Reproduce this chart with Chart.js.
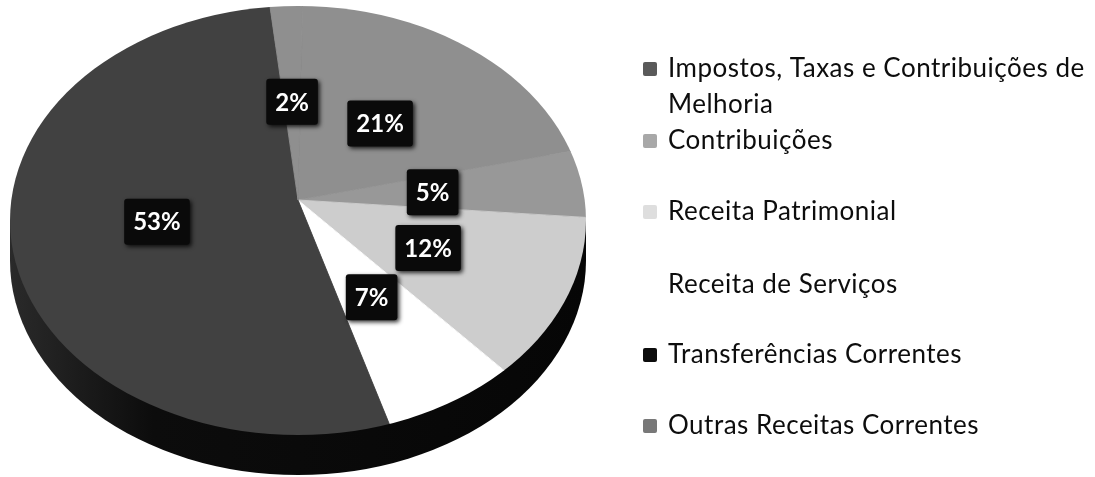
<!DOCTYPE html>
<html><head><meta charset="utf-8">
<style>html,body{margin:0;padding:0;background:#fff}canvas{display:block;filter:blur(0.6px)}</style>
<script src="https://cdn.jsdelivr.net/npm/chart.js@4"></script>
</head><body>
<canvas id="c" width="1095" height="477"></canvas>
<script>
const categories = ["Impostos, Taxas e Contribuições de Melhoria","Contribuições","Receita Patrimonial","Receita de Serviços","Transferências Correntes","Outras Receitas Correntes"];
const values = [21,5,12,7,53,2];
const sliceColors = ["#8f8f8f","#989898","#cdcdcd","#ffffff","#414141","#8f8f8f"];
const swatchColors = ["#5a5a5a","#a8a8a8","#dedede","#ffffff","#0c0c0c","#787878"];
const legendLines = [["Impostos, Taxas e Contribuições de","Melhoria"],["Contribuições"],["Receita Patrimonial"],["Receita de Serviços"],["Transferências Correntes"],["Outras Receitas Correntes"]];

// layout constants (style only)
const FACE = {cx:298, cy:220.5, rx:288, ry:214.5, depth:40};
const TILT = 0.75;
const LABEL_R = [131,135,145,149,144,131];
const LEGEND_BASE = [[77,113],[149],[220],[293],[363],[434]];
const LEGEND_X = 668, SWATCH_X = 643, SWATCH = 14;

function ell(ctx,cy){ctx.beginPath();ctx.ellipse(FACE.cx,cy,FACE.rx,FACE.ry,0,0,Math.PI*2);}

const pie3d = {
  id:'pie3d',
  beforeDatasetsDraw(chart){
    const ctx = chart.ctx, a = chart.getDatasetMeta(0).data[0];
    ctx.save();
    const g = ctx.createLinearGradient(FACE.cx-FACE.rx,0,FACE.cx+FACE.rx,0);
    g.addColorStop(0,'#2a2a2a');g.addColorStop(0.25,'#0c0c0c');g.addColorStop(1,'#060606');
    ctx.fillStyle = g;
    ell(ctx,FACE.cy+FACE.depth);ctx.fill();
    ctx.fillRect(FACE.cx-FACE.rx,FACE.cy,FACE.rx*2,FACE.depth);
    ell(ctx,FACE.cy);ctx.clip();
    ctx.translate(a.x,a.y);ctx.scale(1,TILT);ctx.translate(-a.x,-a.y);
  },
  afterDatasetsDraw(chart){
    const ctx = chart.ctx, meta = chart.getDatasetMeta(0);
    ctx.restore();
    ctx.save();
    ctx.textAlign='center';ctx.textBaseline='middle';
    ctx.font='bold 24px Lato';
    meta.data.forEach((arc,i)=>{
      const mid=(arc.startAngle+arc.endAngle)/2;
      const x=arc.x+Math.cos(mid)*LABEL_R[i];
      const y=arc.y+Math.sin(mid)*LABEL_R[i]*TILT;
      const t=values[i]+'%';
      const w=ctx.measureText(t).width+18, h=46;
      ctx.save();
      ctx.shadowColor='rgba(0,0,0,0.8)';ctx.shadowBlur=4;ctx.shadowOffsetX=2;ctx.shadowOffsetY=2;
      ctx.fillStyle='#0a0a0a';
      ctx.beginPath();ctx.roundRect(x-w/2,y-h/2,w,h,3);ctx.fill();
      ctx.restore();
      ctx.fillStyle='#ffffff';
      ctx.fillText(t,x,y+1);
    });
    ctx.textAlign='left';ctx.textBaseline='alphabetic';
    ctx.font='26px Lato';
    ctx.letterSpacing='0.5px';
    legendLines.forEach((lines,i)=>{
      ctx.fillStyle=swatchColors[i];
      ctx.beginPath();ctx.roundRect(SWATCH_X,LEGEND_BASE[i][0]-15,SWATCH,SWATCH,2);ctx.fill();
      ctx.fillStyle='#0d0d0d';
      lines.forEach((l,j)=>ctx.fillText(l,LEGEND_X,LEGEND_BASE[i][j]));
    });
    ctx.restore();
  }
};

new Chart(document.getElementById('c'),{
  type:'pie',
  data:{labels:categories,datasets:[{data:values,backgroundColor:sliceColors,borderColor:sliceColors,borderWidth:1,clip:false}]},
  options:{
    responsive:false,animation:false,
    radius:345,rotation:1,
    layout:{padding:{right:499,bottom:77,left:0,top:0}},
    plugins:{legend:{display:false},tooltip:{enabled:false},title:{display:false}}
  },
  plugins:[pie3d]
});
</script>
</body></html>
